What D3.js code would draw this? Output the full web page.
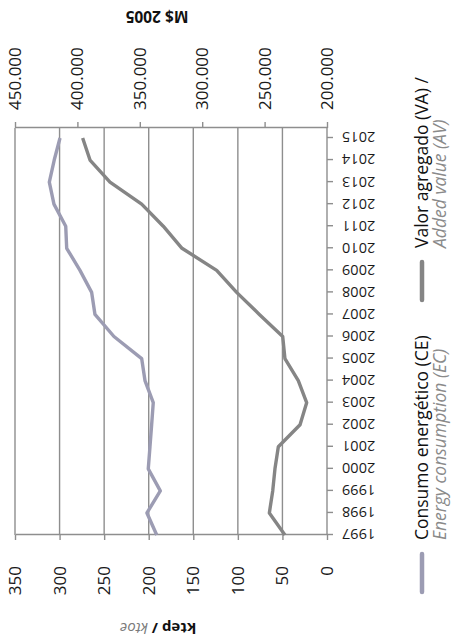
<!DOCTYPE html>
<html>
<head>
<meta charset="utf-8">
<script src="https://cdn.jsdelivr.net/npm/d3@7"></script>
<style>
  html, body { margin: 0; padding: 0; background: #fff; }
  svg { display: block; }
  text { font-family: "Open Sans", "Noto Sans", sans-serif; }
</style>
</head>
<body>
<script>
// Years on the category axis
const years = [1997, 1998, 1999, 2000, 2001, 2002, 2003, 2004, 2005, 2006,
               2007, 2008, 2009, 2010, 2011, 2012, 2013, 2014, 2015];

// Consumo energético (ktep)
const consumo = [191, 202, 187, 200.5, 198.6, 196.7, 194.9, 204.2, 207.9, 239,
                 260.3, 264, 277.1, 292, 293.1, 306.3, 311.5, 306, 299.5];

// Valor agregado (M$ 2005)
const valorAgregado = [233700, 246200, 243500, 241700, 239000, 221600, 216300, 223000, 233700, 235500,
                       254200, 272400, 288400, 316200, 331200, 348500, 373900, 389900, 395800];

// Tick values
const ktepTicks = [0, 50, 100, 150, 200, 250, 300, 350];
const mTicks = [200000, 250000, 300000, 350000, 400000, 450000];

// Legend labels
const seriesNames = [
  { main: "Consumo energético (CE)", alt: "Energy consumption (EC)" },
  { main: "Valor agregado (VA) /", alt: "Added value (AV)" }
];
const titleLeft = { main: "ktep / ", alt: "ktoe" };
const titleRight = "M$ 2005";

const W = 643, H = 452;          // chart drawn landscape, then turned a quarter
const colCE = "#9c9cb3", colVA = "#858585", gridCol = "#8e8e8e";

const es = d3.formatLocale({ decimal: ",", thousands: ".", grouping: [3], currency: ["$", ""] });
const fmtThousands = v => es.format(",")(v / 1000) + ".000";

const svg = d3.select("body").append("svg")
  .attr("width", H).attr("height", W);

const g = svg.append("g").attr("transform", `translate(0,${W}) rotate(-90)`);

const x = d3.scalePoint().domain(years).range([108, 505]);
const yK = d3.scaleLinear().domain([0, 350]).range([327, 15]);
const yM = d3.scaleLinear().domain([200000, 450000]).range([327, 15]);
const plotL = 108, plotR = 515, plotT = 15, plotB = 327;

// Gridlines
g.append("g").selectAll("line").data(ktepTicks.filter(d => d > 0)).join("line")
  .attr("x1", plotL).attr("x2", plotR)
  .attr("y1", d => yK(d)).attr("y2", d => yK(d))
  .attr("stroke", gridCol).attr("stroke-width", 1.4);

function styleAxis(sel) {
  sel.select(".domain").attr("stroke", gridCol).attr("stroke-width", 1.4);
  sel.selectAll(".tick line").attr("stroke", gridCol).attr("stroke-width", 1.4);
  sel.selectAll(".tick text").attr("fill", "#1a1a1a")
    .style("font-family", '"Open Sans", "Noto Sans", sans-serif');
}

// Left axis (ktep)
const axK = g.append("g").attr("transform", `translate(${plotL},0)`)
  .call(d3.axisLeft(yK).tickValues(ktepTicks).tickSize(5).tickPadding(26).tickSizeOuter(0));
styleAxis(axK);
axK.selectAll(".tick text").style("font-size", "17px");

// Right axis (M$ 2005)
const axM = g.append("g").attr("transform", `translate(${plotR},0)`)
  .call(d3.axisRight(yM).tickValues(mTicks).tickFormat(fmtThousands).tickSize(6).tickPadding(12).tickSizeOuter(0));
styleAxis(axM);
axM.selectAll(".tick text").style("font-size", "17px");

// Bottom axis (years)
const axX = g.append("g").attr("transform", `translate(0,${plotB})`)
  .call(d3.axisBottom(x).tickSize(6).tickSizeOuter(0));
axX.select(".domain").attr("d", `M${plotL},0H${plotR}`);
styleAxis(axX);
axX.selectAll(".tick text")
  .style("font-size", "14.5px")
  .attr("text-anchor", "end")
  .attr("dy", "0.35em")
  .attr("y", 0)
  .attr("transform", "translate(0,15) rotate(-90)");

// Series lines
const lineK = d3.line().x((d, i) => x(years[i])).y(d => yK(d));
const lineM = d3.line().x((d, i) => x(years[i])).y(d => yM(d));

g.append("path").datum(consumo).attr("d", lineK)
  .attr("fill", "none").attr("stroke", colCE).attr("stroke-width", 3.4)
  .attr("stroke-linejoin", "round");
g.append("path").datum(valorAgregado).attr("d", lineM)
  .attr("fill", "none").attr("stroke", colVA).attr("stroke-width", 3.4)
  .attr("stroke-linejoin", "round");

// Axis titles
const tL = g.append("text")
  .attr("transform", `translate(15,158) rotate(-90)`)
  .attr("text-anchor", "middle").attr("dy", "0.35em")
  .style("font-size", "15px");
tL.append("tspan").text(titleLeft.main).attr("font-weight", "bold").attr("fill", "#111");
tL.append("tspan").text(titleLeft.alt).attr("font-style", "italic").attr("fill", "#7a7a7a");

g.append("text")
  .attr("transform", `translate(627,157) rotate(-90)`)
  .attr("text-anchor", "middle").attr("dy", "0.35em")
  .style("font-size", "15.5px").attr("font-weight", "bold").attr("fill", "#111")
  .text(titleRight);

// Legend
const legend = [
  { x0: 51, color: colCE, names: seriesNames[0] },
  { x0: 343, color: colVA, names: seriesNames[1] }
];
const lg = g.append("g").selectAll("g").data(legend).join("g");
lg.append("line")
  .attr("x1", d => d.x0).attr("x2", d => d.x0 + 38)
  .attr("y1", 422).attr("y2", 422)
  .attr("stroke", d => d.color).attr("stroke-width", 4.5).attr("stroke-linecap", "round");
lg.append("text")
  .attr("x", d => d.x0 + 52).attr("y", 428)
  .style("font-size", "17.5px").attr("fill", "#111")
  .text(d => d.names.main);
lg.append("text")
  .attr("x", d => d.x0 + 52).attr("y", 446)
  .style("font-size", "17.5px").attr("font-style", "italic").attr("fill", "#8a8a8a")
  .text(d => d.names.alt);
</script>
</body>
</html>
